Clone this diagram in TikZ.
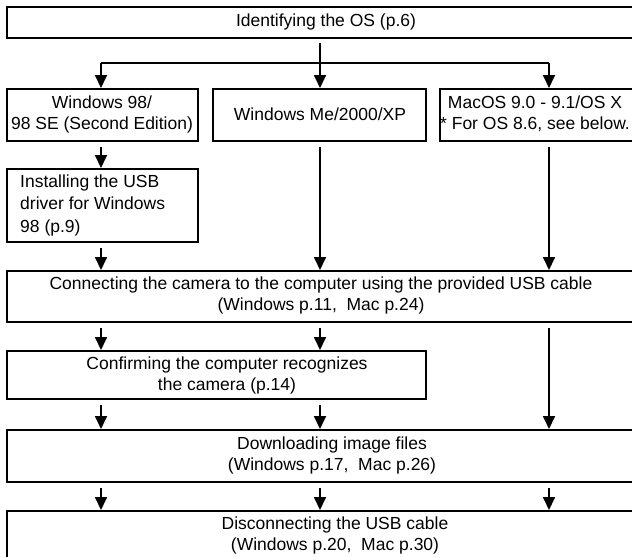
\documentclass[tikz,border=0pt]{standalone}
\usepackage{fontspec}
\setmainfont{Liberation Sans}
\usetikzlibrary{arrows.meta}

\tikzset{
  box/.style={draw, line width=2.2pt, inner sep=0pt, anchor=north west},
  txt/.style={font=\fontsize{17.5}{21}\selectfont, align=center, inner sep=0pt},
  flow/.style={line width=1.8pt, -{Triangle[width=12pt,length=13pt]}},
}

\begin{document}
\begin{tikzpicture}[line cap=butt,line join=miter,x=1pt,y=-1pt]
	\useasboundingbox (0,0) rectangle (632,557);
	\clip (0,0) rectangle (632,557);
	% columns of the arrows
	\coordinate (c1) at (101,0);
	\coordinate (c2) at (320,0);
	\coordinate (c3) at (549,0);
	% boxes
	\node[box, minimum width=654pt, minimum height=31pt] (ident) at (6,6) {};
	\node[box, minimum width=191pt, minimum height=52pt] (w98) at (6,88) {};
	\node[box, minimum width=213pt, minimum height=52pt] (wme) at (212,88) {};
	\node[box, minimum width=221pt, minimum height=52pt] (mac) at (439,88) {};
	\node[box, minimum width=191pt, minimum height=73pt] (inst) at (6,168) {};
	\node[box, minimum width=654pt, minimum height=51pt] (conn) at (6,270) {};
	\node[box, minimum width=419pt, minimum height=48pt] (conf) at (6,350) {};
	\node[box, minimum width=654pt, minimum height=52pt] (down) at (6,429) {};
	\node[box, minimum width=654pt, minimum height=90pt] (disc) at (6,510) {};
	% texts
	\node[txt] (identT) at (326,22) {Identifying the OS (p.6)};
	\node[txt] (w98T) at (102,114) {Windows 98/\\98 SE (Second Edition)};
	\node[txt] (wmeT) at (320,114) {Windows Me/2000/XP};
	\node[txt] (macT) at (535,114) {MacOS 9.0 - 9.1/OS X\\* For OS 8.6, see below.};
	\node[txt, align=left, anchor=west, font=\fontsize{17.5}{22.5}\selectfont] (instT) at (20,205) {Installing the USB\\driver for Windows\\98 (p.9)};
	\node[txt] (connT) at (321,295) {Connecting the camera to the computer using the provided USB cable\\(Windows p.11,~ Mac p.24)};
	\node[txt] (confT) at (227,375) {Confirming the computer recognizes\\the camera (p.14)};
	\node[txt] (downT) at (332,455) {Downloading image files\\(Windows p.17,~ Mac p.26)};
	\node[txt] (discT) at (335,535) {Disconnecting the USB cable\\(Windows p.20,~ Mac p.30)};
	% split below the first box
	\coordinate (split) at (320,63);
	\draw[line width=1.8pt, shorten <=4pt] (ident.south -| c2) -- (split);
	\draw[line width=1.8pt] (split -| c1) -- (split -| c3);
	\foreach \b/\c in {w98/c1, wme/c2, mac/c3}
		\draw[flow] (split -| \c) -- (\b.north -| \c);
	% arrows between the boxes
	\draw[flow, shorten <=5pt] (w98.south -| c1) -- (inst.north -| c1);
	\draw[flow, shorten <=5pt] (inst.south -| c1) -- (conn.north -| c1);
	\draw[flow, shorten <=5pt] (wme.south -| c2) -- (conn.north -| c2);
	\draw[flow, shorten <=5pt] (mac.south -| c3) -- (conn.north -| c3);
	\draw[flow, shorten <=5pt] (conn.south -| c1) -- (conf.north -| c1);
	\draw[flow, shorten <=5pt] (conn.south -| c2) -- (conf.north -| c2);
	\draw[flow, shorten <=5pt] (conn.south -| c3) -- (down.north -| c3);
	\draw[flow, shorten <=5pt] (conf.south -| c1) -- (down.north -| c1);
	\draw[flow, shorten <=5pt] (conf.south -| c2) -- (down.north -| c2);
	\foreach \c in {c1, c2, c3}
		\draw[flow, shorten <=5pt] (down.south -| \c) -- (disc.north -| \c);
\end{tikzpicture}
\end{document}
